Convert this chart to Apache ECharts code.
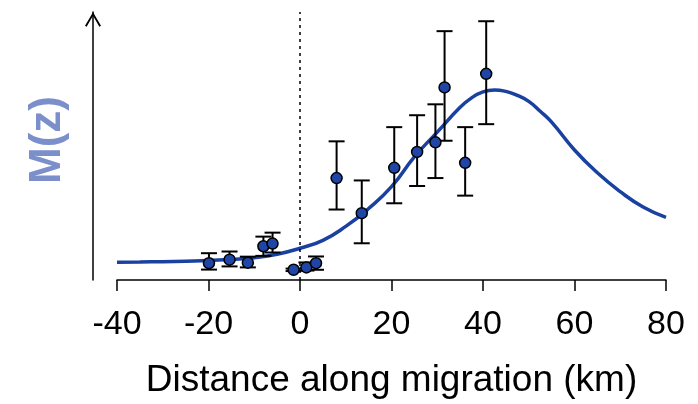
<!DOCTYPE html>
<html style="height: 100%;margin: 0;padding: 0;">
<head>
    <meta charset="utf-8">
    <title>M(z)</title>
    <script src="https://cdn.jsdelivr.net/npm/echarts@6/dist/echarts.min.js"></script>
</head>
<body style="margin:0;padding:0;">
<div id="main" style="width:698px;height:404px;"></div>
<script type="text/javascript">
    // observed points (x in km, y in arbitrary units above the axis)
    var pointX = [-19.9, -15.4, -11.4, -8.0, -6.0, -1.4, 1.4, 3.5, 8.0, 13.5, 20.6, 25.6, 29.6, 31.6, 36.1, 40.7];
    var pointY = [17, 20.5, 17.5, 34, 36.7, 10.3, 12.7, 17, 102.7, 67.3, 113, 129, 138.7, 194, 118, 207.7];
    var errLow = [10.5, 13.7, 12.7, 24.3, 27.7, 9, 9.5, 10.3, 71, 37, 77.3, 94.7, 102.7, 140.3, 85, 157];
    var errHigh = [27, 28.7, 23.5, 43.7, 47.7, 11.5, 17.7, 23.7, 139.7, 100.3, 154, 166, 177, 250.7, 154, 260.7];

    // fitted curve
    var curveX = [-40, -35, -30, -25, -20, -15, -10, -5, 0, 5, 10, 15, 20, 25, 30, 35, 37.5, 40, 42.5, 45, 47.5, 50, 52.5, 55, 60, 65, 70, 75, 80];
    var curveY = [18, 18.2, 18.5, 19, 19.6, 20.8, 22.5, 26, 32, 40, 54, 72, 94, 124, 149, 174, 183.5, 189.5, 191.5, 190, 186, 180, 170, 159, 131, 108, 89, 73.5, 63];

    var xTicks = [-40, -20, 0, 20, 40, 60, 80];

    var curveData = [], pointData = [], errData = [];
    for (var i = 0; i < curveX.length; i++) curveData.push([curveX[i], curveY[i]]);
    for (var i = 0; i < pointX.length; i++) {
        pointData.push([pointX[i], pointY[i]]);
        errData.push([pointX[i], errLow[i], errHigh[i]]);
    }

    var font = "'Liberation Sans', Arial, sans-serif";
    var myChart = echarts.init(document.getElementById('main'));
    var option = {
        animation: false,
        grid: { left: 117, right: 32, top: 12, bottom: 122 },
        xAxis: {
            type: 'value',
            min: xTicks[0],
            max: xTicks[xTicks.length - 1],
            interval: 20,
            splitLine: { show: false },
            axisLine: { lineStyle: { color: '#000', width: 1.5 } },
            axisTick: { length: 11, lineStyle: { color: '#000', width: 1.5 } },
            axisLabel: { fontSize: 34, color: '#000', margin: 28, fontFamily: font },
            name: 'Distance along migration (km)',
            nameLocation: 'middle',
            nameGap: 82,
            nameTextStyle: { fontSize: 37, color: '#000', fontFamily: font }
        },
        yAxis: {
            type: 'value',
            min: 0,
            max: 270,
            offset: 24,
            splitLine: { show: false },
            axisTick: { show: false },
            axisLabel: { show: false },
            axisLine: {
                show: true,
                onZero: false,
                symbol: ['none', 'path://M8,0 L16,13.5 L14.4,14.6 L8,3.6 L1.6,14.6 L0,13.5 Z'],
                symbolSize: [16, 15],
                symbolOffset: [0, -7.5],
                lineStyle: { color: '#000', width: 1.5 }
            },
            name: 'M(z)',
            nameLocation: 'middle',
            nameRotate: 90,
            nameGap: 23,
            nameTextStyle: {
                fontSize: 44, fontWeight: 'bold', color: '#7b8fcb', fontFamily: font,
                padding: [0, 0, 0, 12]
            }
        },
        series: [
            {
                type: 'line',
                data: curveData,
                smooth: 0.5,
                showSymbol: false,
                z: 1,
                lineStyle: { color: '#1a40a0', width: 3.5 },
                markLine: {
                    silent: true,
                    symbol: 'none',
                    label: { show: false },
                    lineStyle: { color: '#000', type: [3, 4], width: 1.5 },
                    data: [{ xAxis: 0 }]
                }
            },
            {
                type: 'custom',
                data: errData,
                z: 2,
                encode: { x: 0, y: [1, 2] },
                renderItem: function (params, api) {
                    var x = api.value(0);
                    var lo = api.coord([x, api.value(1)]);
                    var hi = api.coord([x, api.value(2)]);
                    var w = 8;
                    var st = { stroke: '#000', lineWidth: 2 };
                    return {
                        type: 'group',
                        children: [
                            { type: 'line', shape: { x1: lo[0], y1: lo[1], x2: hi[0], y2: hi[1] }, style: st },
                            { type: 'line', shape: { x1: lo[0] - w, y1: lo[1], x2: lo[0] + w, y2: lo[1] }, style: st },
                            { type: 'line', shape: { x1: hi[0] - w, y1: hi[1], x2: hi[0] + w, y2: hi[1] }, style: st }
                        ]
                    };
                }
            },
            {
                type: 'scatter',
                data: pointData,
                z: 3,
                symbolSize: 11,
                itemStyle: { color: '#1f45a6', borderColor: '#000', borderWidth: 1.5, opacity: 1 }
            }
        ]
    };
    myChart.setOption(option);
</script>
</body>
</html>
